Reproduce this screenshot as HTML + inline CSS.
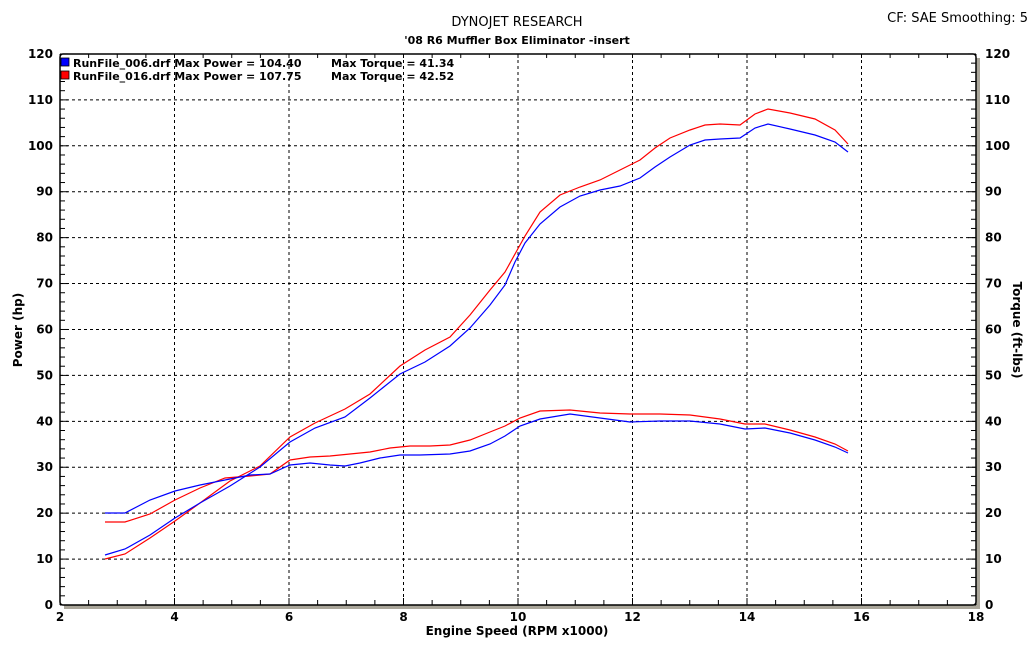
<!DOCTYPE html>
<html><head><meta charset="utf-8"><style>
html,body{margin:0;padding:0;background:#fff;width:1035px;height:647px;overflow:hidden}
svg text{font-family:"DejaVu Sans","Liberation Sans",sans-serif;font-weight:bold;font-size:12px;fill:#000}
</style></head><body>
<svg id="s" width="1035" height="647" xmlns="http://www.w3.org/2000/svg">
<rect x="64" y="58" width="916" height="551" fill="#aaa69a"/>
<rect x="60" y="54" width="916" height="551" fill="#fff" stroke="#000" stroke-width="1.5" rx="3"/>
<g id="g"></g>
<text x="517" y="26" text-anchor="middle" style="font-weight:normal;font-size:13px">DYNOJET RESEARCH</text>
<text x="517" y="44" text-anchor="middle" style="font-size:11px">'08 R6 Muffler Box Eliminator -insert</text>
<text x="1028" y="22" text-anchor="end" style="font-weight:normal;font-size:13px">CF: SAE  Smoothing: 5</text>
<rect x="61" y="58" width="8" height="8" fill="#0000ff" stroke="#000" stroke-width="0.8"/>
<rect x="61" y="71" width="8" height="8" fill="#ff0000" stroke="#000" stroke-width="0.8"/>
<text x="73" y="67" style="font-size:11px">RunFile_006.drf Max Power = 104.40</text>
<text x="331" y="67" style="font-size:11px">Max Torque = 41.34</text>
<text x="73" y="80" style="font-size:11px">RunFile_016.drf Max Power = 107.75</text>
<text x="331" y="80" style="font-size:11px">Max Torque = 42.52</text>
<text x="517" y="635" text-anchor="middle">Engine Speed (RPM x1000)</text>
<text transform="translate(22,330) rotate(-90)" text-anchor="middle">Power (hp)</text>
<text transform="translate(1013,330) rotate(90)" text-anchor="middle">Torque (ft-lbs)</text>
<polyline fill="none" stroke="#ff0000" stroke-width="1.2" points="105,559 125,554 150,538 175,521 200,503 230,481 260,466 290,437 315,423 345,409 370,394 400,366 425,350 450,337 470,315 490,290 505,272 515,254 525,236 540,212 560,195 580,187 600,180 620,170 640,160 655,148 670,138 690,130 705,125 720,124 740,125 755,114 768,109 790,113 815,119 835,130 848,144"/>
<polyline fill="none" stroke="#ff0000" stroke-width="1.2" points="105,522 125,522 150,514 175,500 200,488 225,478 250,476 270,474 290,460 310,457 330,456 350,454 370,452 390,448 410,446 430,446 450,445 470,440 490,432 505,426 520,418 540,411 570,410 600,413 630,414 660,414 690,415 720,419 745,424 765,424 790,430 815,437 835,444 848,451"/>
<polyline fill="none" stroke="#0000ff" stroke-width="1.2" points="105,555 125,549 150,535 175,518 200,503 230,486 260,467 290,442 315,428 345,417 370,398 400,374 425,362 450,346 470,328 490,305 505,285 515,262 525,243 540,224 560,207 580,196 600,190 620,186 640,178 655,167 670,157 690,145 705,140 720,139 740,138 755,128 768,124 790,129 815,135 835,142 848,152"/>
<polyline fill="none" stroke="#0000ff" stroke-width="1.2" points="105,513 125,513 150,500 175,491 200,485 225,480 250,475 270,474 290,465 310,463 330,465 345,466 360,463 380,458 400,455 420,455 450,454 470,451 490,444 505,436 520,426 540,419 570,414 600,418 630,422 660,421 690,421 720,424 745,429 765,428 790,433 815,440 835,447 848,453"/>
</svg>
<script>
var g=document.getElementById('g'),h='';
function X(r){return 60+(r-2)*57.25}function Y(v){return 605-v*4.592}
for(var r=4;r<=16;r+=2)h+='<line x1="'+X(r)+'" x2="'+X(r)+'" y1="54" y2="605" stroke="#000" stroke-dasharray="3,3" stroke-width="1"/>';
for(var v=10;v<=110;v+=10)h+='<line x1="60" x2="976" y1="'+Y(v)+'" y2="'+Y(v)+'" stroke="#000" stroke-dasharray="3,3" stroke-width="1"/>';
for(var r=2;r<=18;r+=0.5){var x=X(r);h+='<line x1="'+x+'" x2="'+x+'" y1="605" y2="'+(r%2==0?598:600)+'" stroke="#000"/><line x1="'+x+'" x2="'+x+'" y1="54" y2="58" stroke="#000"/>';if(r%2==0)h+='<text x="'+x+'" y="621" text-anchor="middle">'+r+'</text>';}
for(var v=0;v<=120;v+=2){var y=Y(v),L=v%10==0?8:5;h+='<line x1="60" x2="'+(60+L)+'" y1="'+y+'" y2="'+y+'" stroke="#000"/><line x1="976" x2="'+(976-L)+'" y1="'+y+'" y2="'+y+'" stroke="#000"/>';if(v%10==0){h+='<text x="53" y="'+(y+4)+'" text-anchor="end">'+v+'</text><text x="985" y="'+(y+4)+'">'+v+'</text>';}}
g.innerHTML=h;
</script>
</body></html>
